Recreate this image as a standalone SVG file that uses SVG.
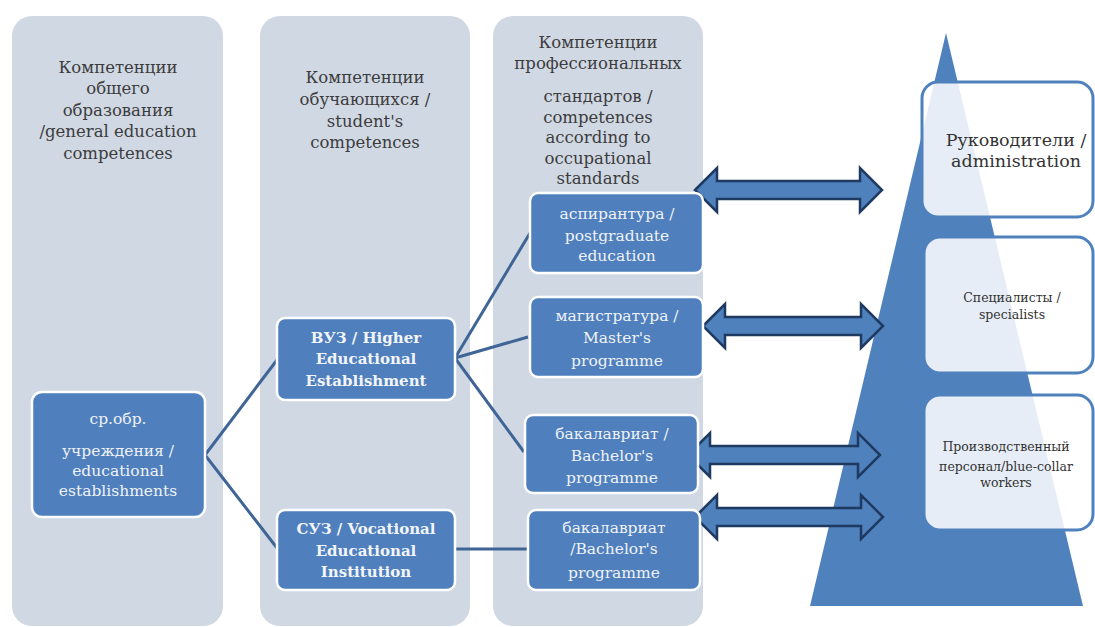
<svg xmlns="http://www.w3.org/2000/svg" width="1095" height="627" viewBox="0 0 1095 627">
<defs>
<style>
.col{fill:#d0d8e4;}
.hdr{font-family:"DejaVu Serif","Liberation Serif",serif;font-size:16.5px;fill:#3c3c3c;text-anchor:middle;}
.node{fill:#4f7fbc;stroke:#ffffff;stroke-width:2.5;}
.nt{font-family:"DejaVu Serif","Liberation Serif",serif;font-size:15.5px;fill:#eef2f8;text-anchor:middle;}
.nb{font-family:"DejaVu Serif","Liberation Serif",serif;font-size:15px;font-weight:bold;fill:#f2f5fa;text-anchor:middle;}
.conn{stroke:#3f6596;stroke-width:3;fill:none;}
.arr{fill:#4f81bd;stroke:#1f3a60;stroke-width:2.5;stroke-linejoin:miter;}
.lvl{fill:#ffffff;fill-opacity:0.86;stroke:#4f81bd;stroke-width:3;}
.lt{font-family:"DejaVu Serif","Liberation Serif",serif;fill:#333333;text-anchor:middle;}
</style>
</defs>
<rect width="1095" height="627" fill="#ffffff"/>

<g id="col1"><rect class="col" x="12" y="16" width="211" height="610" rx="20"/>
<text class="hdr" x="118" y="73">Компетенции</text>
<text class="hdr" x="118" y="94">общего</text>
<text class="hdr" x="118" y="116">образования</text>
<text class="hdr" x="118" y="137">/general education</text>
<text class="hdr" x="118" y="159">competences</text>
</g>
<g id="col2"><rect class="col" x="260" y="16" width="210" height="610" rx="20"/>
<text class="hdr" x="365" y="83">Компетенции</text>
<text class="hdr" x="365" y="105">обучающихся /</text>
<text class="hdr" x="365" y="127">student's</text>
<text class="hdr" x="365" y="148">competences</text>
</g>
<g id="col3"><rect class="col" x="493" y="16" width="210" height="610" rx="20"/>
<text class="hdr" x="598" y="48">Компетенции</text>
<text class="hdr" x="598" y="69">профессиональных</text>
<text class="hdr" x="598" y="102">стандартов /</text>
<text class="hdr" x="598" y="123">competences</text>
<text class="hdr" x="598" y="143">according to</text>
<text class="hdr" x="598" y="164">occupational</text>
<text class="hdr" x="598" y="184">standards</text>
</g>

<g id="pyramid"><polygon points="946,33 1083,606 810,606" fill="#4f81bd"/></g>

<g id="connectors">
<polyline class="conn" points="277,360 205,455 277,548"/>
<line class="conn" x1="455" y1="358" x2="530" y2="233"/>
<line class="conn" x1="455" y1="358" x2="528" y2="337"/>
<line class="conn" x1="455" y1="358" x2="524" y2="452"/>
<line class="conn" x1="455" y1="549" x2="528" y2="549"/>
<polygon class="arr" points="695,190 717,168 717,181 860,181 860,168 882,190 860,212 860,199 717,199 717,212"/>
<polygon class="arr" points="703,326 725,304 725,317 861,317 861,304 883,326 861,348 861,335 725,335 725,348"/>
<polygon class="arr" points="688,455 710,433 710,446 858,446 858,433 880,455 858,477 858,464 710,464 710,477"/>
<polygon class="arr" points="695,517 717,495 717,508 861,508 861,495 883,517 861,539 861,526 717,526 717,539"/>
</g>

<g id="n-school"><rect class="node" x="32" y="392" width="173" height="125" rx="10"/>
<text class="nt" x="118" y="424">ср.обр.</text>
<text class="nt" x="118" y="456">учреждения  /</text>
<text class="nt" x="118" y="476">educational</text>
<text class="nt" x="118" y="496">establishments</text>
</g>
<g id="n-vuz"><rect class="node" x="277" y="318" width="178" height="82" rx="8"/>
<text class="nb" x="366" y="343">ВУЗ / Higher</text>
<text class="nb" x="366" y="364">Educational</text>
<text class="nb" x="366" y="386">Establishment</text>
</g>
<g id="n-suz"><rect class="node" x="277" y="510" width="178" height="80" rx="8"/>
<text class="nb" x="366" y="534">СУЗ / Vocational</text>
<text class="nb" x="366" y="556">Educational</text>
<text class="nb" x="366" y="577">Institution</text>
</g>
<g id="n-asp"><rect class="node" x="530" y="193" width="173" height="80" rx="8"/>
<text class="nt" x="617" y="219">аспирантура  /</text>
<text class="nt" x="617" y="241">postgraduate</text>
<text class="nt" x="617" y="261">education</text>
</g>
<g id="n-mag"><rect class="node" x="530" y="297" width="173" height="80" rx="8"/>
<text class="nt" x="617" y="321">магистратура /</text>
<text class="nt" x="617" y="343">Master's</text>
<text class="nt" x="617" y="366">programme</text>
</g>
<g id="n-bak1"><rect class="node" x="525" y="415" width="173" height="78" rx="8"/>
<text class="nt" x="612" y="439">бакалавриат /</text>
<text class="nt" x="612" y="461">Bachelor's</text>
<text class="nt" x="612" y="483">programme</text>
</g>
<g id="n-bak2"><rect class="node" x="528" y="510" width="172" height="80" rx="8"/>
<text class="nt" x="614" y="533">бакалавриат</text>
<text class="nt" x="614" y="554">/Bachelor's</text>
<text class="nt" x="614" y="578">programme</text>
</g>

<g id="l-admin"><rect class="lvl" x="922" y="82" width="171" height="135" rx="16"/>
<text class="lt" x="1016" y="146" font-size="17.5">Руководители /</text>
<text class="lt" x="1016" y="167" font-size="17.5">administration</text>
</g>
<g id="l-spec"><rect class="lvl" x="924" y="237" width="169" height="136" rx="16"/>
<text class="lt" x="1012" y="302" font-size="12.5">Специалисты /</text>
<text class="lt" x="1012" y="319" font-size="12.5">specialists</text>
</g>
<g id="l-workers"><rect class="lvl" x="924" y="395" width="169" height="135" rx="16"/>
<text class="lt" x="1006" y="451" font-size="12.5">Производственный</text>
<text class="lt" x="1006" y="471" font-size="12.5">персонал/blue-collar</text>
<text class="lt" x="1006" y="487" font-size="12.5">workers</text>
</g>
</svg>
